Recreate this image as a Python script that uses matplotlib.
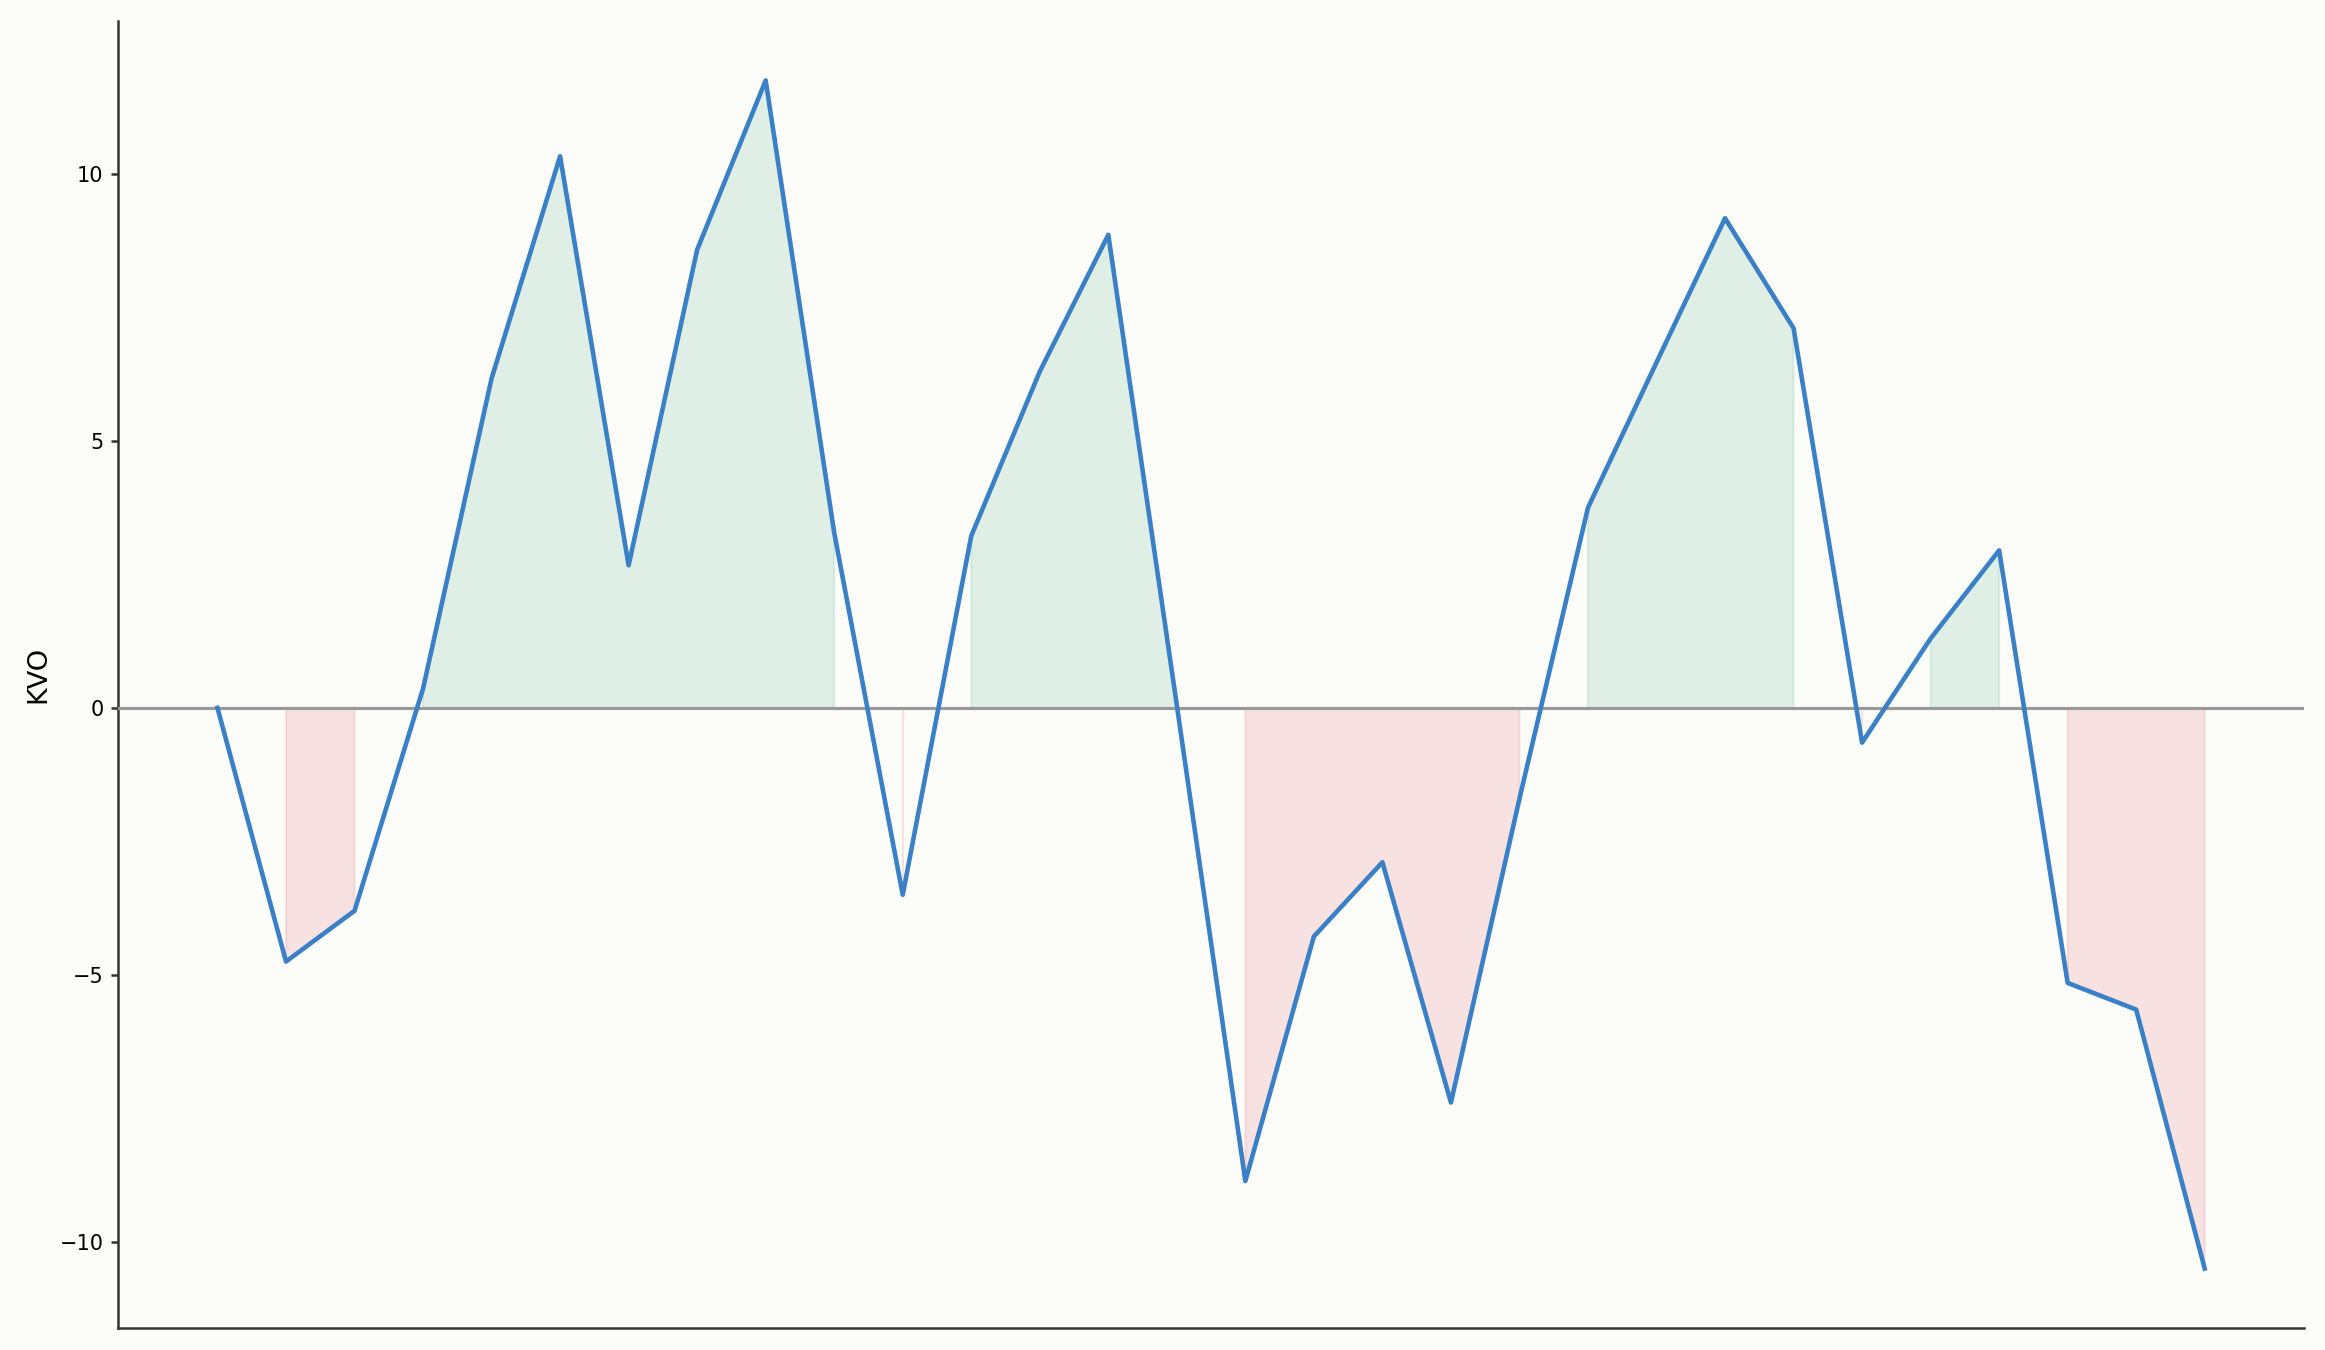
import matplotlib
matplotlib.use("Agg")
import matplotlib.pyplot as plt
import numpy as np

# KVO values, one per period
period = np.arange(30)
kvo = np.array([0.0, -4.75, -3.8, 0.36, 6.17, 10.33, 2.67, 8.58, 11.75, 3.28,
                -3.5, 3.22, 6.3, 8.86, 0.05, -8.86, -4.28, -2.89, -7.39, -1.7,
                3.75, 6.47, 9.17, 7.11, -0.65, 1.3, 2.95, -5.15, -5.65, -10.5])

bg = "#fcfdf8"
line_color = "#3a80c6"
up_color = "#3aa07a"
down_color = "#d9435a"

fig = plt.figure(figsize=(15.5, 9), dpi=150, facecolor=bg)
ax = fig.add_axes([0.0508, 0.0163, 0.9402, 0.9681])
ax.set_facecolor(bg)

ax.fill_between(period, kvo, 0, where=kvo > 0, color=up_color, alpha=0.14, linewidth=1)
ax.fill_between(period, kvo, 0, where=kvo < 0, color=down_color, alpha=0.14, linewidth=1)
ax.axhline(0, color="#999999", linewidth=1.5, zorder=3)
ax.plot(period, kvo, color=line_color, linewidth=2.2, zorder=4)

ax.set_yticks([-10, -5, 0, 5, 10])
ax.set_xticks([])
ax.tick_params(axis="y", labelsize=10, color="#333333", width=1.2)
ax.set_ylabel("KVO", fontsize=13)
for s in ["top", "right"]:
    ax.spines[s].set_visible(False)
for s in ["left", "bottom"]:
    ax.spines[s].set_color("#333333")
    ax.spines[s].set_linewidth(1.2)

fig.savefig("out.png", dpi=150, facecolor=bg)
